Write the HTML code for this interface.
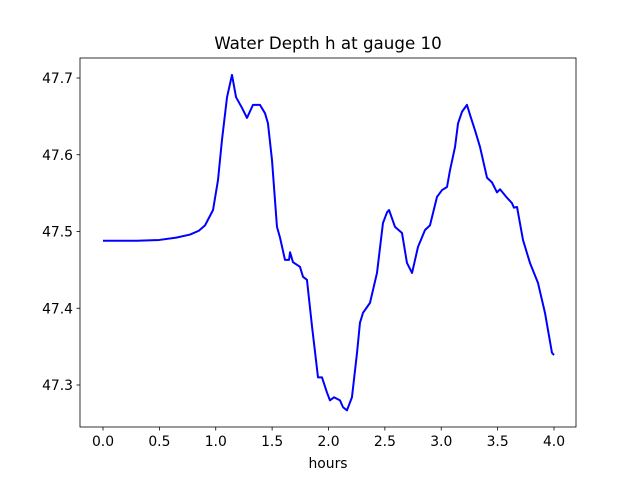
<!DOCTYPE html>
<html><head><meta charset="utf-8"><style>
body{margin:0;background:#fff;}
svg{display:block;font-family:"DejaVu Sans","Liberation Sans",sans-serif;}
</style></head><body>
<svg id="chart" width="640" height="480" viewBox="0 0 640 480">
<rect width="640" height="480" fill="#fff"/>
<text x="328" y="49" font-size="16.7" text-anchor="middle">Water Depth h at gauge 10</text>
<g id="ticks"></g>
<path id="line" fill="none" stroke="#0000ff" stroke-width="2" stroke-linejoin="round"/>
<rect x="80" y="58" width="496" height="369" fill="none" stroke="#000" stroke-width="0.8"/>
<text x="328" y="468" font-size="13.9" text-anchor="middle">hours</text>
</svg>
<script>
const hours=[0,0.3,0.5,0.65,0.772,0.85,0.905,0.976,1.020,1.055,1.100,1.144,1.180,1.233,1.277,1.330,1.392,1.437,1.463,1.499,1.543,1.570,1.614,1.650,1.659,1.685,1.747,1.774,1.809,1.854,1.907,1.942,1.987,2.013,2.049,2.102,2.129,2.164,2.208,2.253,2.279,2.306,2.368,2.430,2.483,2.519,2.537,2.590,2.652,2.696,2.741,2.794,2.856,2.900,2.962,3.007,3.051,3.078,3.122,3.149,3.184,3.228,3.255,3.299,3.344,3.406,3.450,3.494,3.521,3.583,3.627,3.645,3.672,3.725,3.787,3.858,3.920,3.982,4.000];
const depth=[47.488,47.488,47.489,47.492,47.496,47.501,47.508,47.528,47.567,47.619,47.675,47.704,47.675,47.661,47.648,47.665,47.665,47.654,47.641,47.593,47.506,47.492,47.463,47.463,47.473,47.460,47.454,47.441,47.437,47.376,47.310,47.310,47.290,47.280,47.284,47.280,47.271,47.267,47.284,47.342,47.381,47.394,47.407,47.446,47.511,47.525,47.528,47.506,47.498,47.459,47.446,47.480,47.502,47.508,47.545,47.554,47.558,47.580,47.610,47.641,47.656,47.665,47.652,47.632,47.610,47.570,47.564,47.551,47.555,47.544,47.537,47.531,47.532,47.489,47.459,47.433,47.394,47.342,47.339];
const xTicks=[0,0.5,1,1.5,2,2.5,3,3.5,4];
const xTickLabels=["0.0","0.5","1.0","1.5","2.0","2.5","3.0","3.5","4.0"];
const yTicks=[47.3,47.4,47.5,47.6,47.7];
const yTickLabels=["47.3","47.4","47.5","47.6","47.7"];
const xs=h=>103+h*112.75;
const ys=v=>78+(47.7-v)*767.5;
const NS="http://www.w3.org/2000/svg";
const g=document.getElementById('ticks');
function mk(tag,attrs,txt){const e=document.createElementNS(NS,tag);for(const k in attrs)e.setAttribute(k,attrs[k]);if(txt!==undefined)e.textContent=txt;g.appendChild(e);return e;}
xTicks.forEach((t,i)=>{const x=xs(t);
 const l=mk('line',{x1:x,x2:x,y1:427,y2:430.5,stroke:'#000','stroke-width':0.8});
 
 
 const tx=mk('text',{x:x,y:446,'font-size':13.9,'text-anchor':'middle'},xTickLabels[i]);
 
 
});
yTicks.forEach((t,i)=>{const y=ys(t);
 const l=mk('line',{x1:76.5,x2:80,y1:y,y2:y,stroke:'#000','stroke-width':0.8});
 
 
 const tx=mk('text',{x:73,y:y+5,'font-size':13.9,'text-anchor':'end'},yTickLabels[i]);
 
 
});
document.getElementById('line').setAttribute('d',hours.map((h,i)=>(i?'L':'M')+xs(h).toFixed(2)+' '+ys(depth[i]).toFixed(2)).join(' '));
</script>
</body></html>
